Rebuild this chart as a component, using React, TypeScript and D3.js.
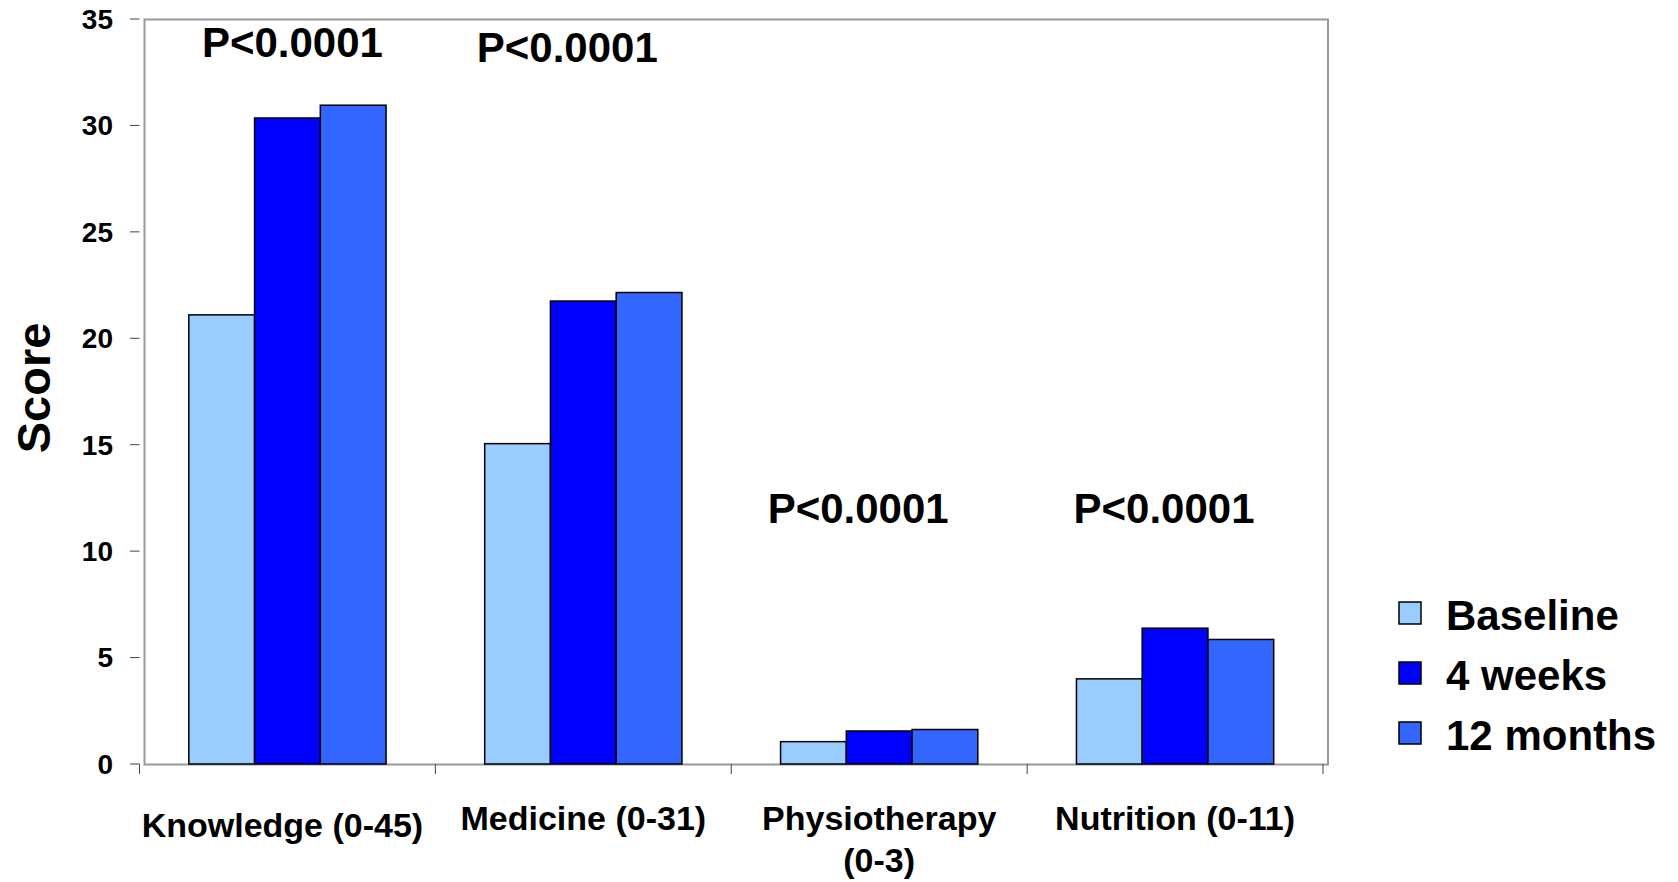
import React from 'react';
import * as d3 from 'd3';

// chart data
const categories = ['Knowledge (0-45)', 'Medicine (0-31)', 'Physiotherapy (0-3)', 'Nutrition (0-11)'];
const categoryLines = [['Knowledge (0-45)'], ['Medicine (0-31)'], ['Physiotherapy', '(0-3)'], ['Nutrition (0-11)']];
const series = ['Baseline', '4 weeks', '12 months'];
const baseline = [21.1, 15.05, 1.05, 4.0];
const weeks4 = [30.35, 21.75, 1.55, 6.38];
const months12 = [30.95, 22.15, 1.62, 5.85];
const seriesValues = [baseline, weeks4, months12];
const seriesColors = ['#99CCFF', '#0000FF', '#3366FF'];
const yTicks = [0, 5, 10, 15, 20, 25, 30, 35];
// p-value annotations, placed at a score level above each group
const pLabels = ['P<0.0001', 'P<0.0001', 'P<0.0001', 'P<0.0001'];
const pLabelLevel = [33.2, 33.0, 11.3, 11.3];

const W = 1678;
const H = 882;
const FONT = "'Liberation Sans', Arial, Helvetica, sans-serif";

export default function App() {
  const axisLeft = 139.5;
  const axisRight = 1323;
  const yTop = 19;
  const yBottom = 764;

  const x = d3.scaleBand<string>()
    .domain(categories)
    .range([axisLeft, axisRight])
    .paddingInner(1 / 3)
    .paddingOuter(1 / 6);

  const x1 = d3.scaleBand<string>()
    .domain(series)
    .range([0, x.bandwidth()]);

  const y = d3.scaleLinear().domain([0, 35]).range([yBottom, yTop]);

  const step = x.step();
  const boundaries = d3.range(categories.length + 1).map(i => axisLeft + i * step);
  const center = (c: string) => (x(c) as number) + x.bandwidth() / 2;

  // small hand nudges for the annotation text, as in the original slide
  const pNudge = [5, -16, -21, -11];
  const catNudge = [-5, 0, 0, 0];

  return (
    <svg width={W} height={H} style={{ position: 'absolute', left: 0, top: 0, display: 'block', background: '#fff' }}
      fontFamily={FONT} fontWeight="bold">
      {/* plot frame */}
      <rect x={axisLeft + 5} y={yTop + 0.5} width={axisRight - axisLeft} height={yBottom - yTop}
        fill="#fff" stroke="#999" strokeWidth={2} />

      {/* y axis ticks */}
      {yTicks.map(t => (
        <g key={t}>
          <line x1={130} x2={axisLeft} y1={y(t)} y2={y(t)} stroke="#444" strokeWidth={1} />
          <text x={113} y={y(t)} dy="0.35em" textAnchor="end" fontSize={28} fill="#000">{t}</text>
        </g>
      ))}

      {/* x axis ticks at band boundaries */}
      {boundaries.map((b, i) => (
        <line key={i} x1={b} x2={b} y1={yBottom} y2={yBottom + 10} stroke="#444" strokeWidth={1} />
      ))}

      {/* bars */}
      {categories.map((c, ci) => (
        <g key={c} transform={`translate(${x(c)},0)`}>
          {series.map((s, si) => {
            const v = seriesValues[si][ci];
            return (
              <rect key={s} x={x1(s)} y={y(v)} width={x1.bandwidth()} height={y(0) - y(v)}
                fill={seriesColors[si]} stroke="#000" strokeWidth={1.5} />
            );
          })}
        </g>
      ))}

      {/* p-value labels */}
      {categories.map((c, i) => (
        <text key={c} x={center(c) + pNudge[i]} y={y(pLabelLevel[i])} textAnchor="middle" fontSize={42} fill="#000">
          {pLabels[i]}
        </text>
      ))}

      {/* category labels */}
      {categories.map((c, i) => (
        <text key={c} x={center(c) + catNudge[i]} y={i === 0 ? 837 : 830} textAnchor="middle" fontSize={34} fill="#000">
          {categoryLines[i].map((ln, li) => (
            <tspan key={li} x={center(c) + catNudge[i]} dy={li === 0 ? 0 : 42}>{ln}</tspan>
          ))}
        </text>
      ))}

      {/* y axis title */}
      <text transform="translate(50,388) rotate(-90)" textAnchor="middle" fontSize={47} fill="#000">Score</text>

      {/* legend */}
      {series.map((s, i) => {
        const cy = 613 + i * 60;
        return (
          <g key={s}>
            <rect x={1399} y={cy - 11} width={22} height={22} fill={seriesColors[i]} stroke="#000" strokeWidth={1.5} />
            <text x={1446} y={cy + 17} fontSize={42} fill="#000">{s}</text>
          </g>
        );
      })}
    </svg>
  );
}
